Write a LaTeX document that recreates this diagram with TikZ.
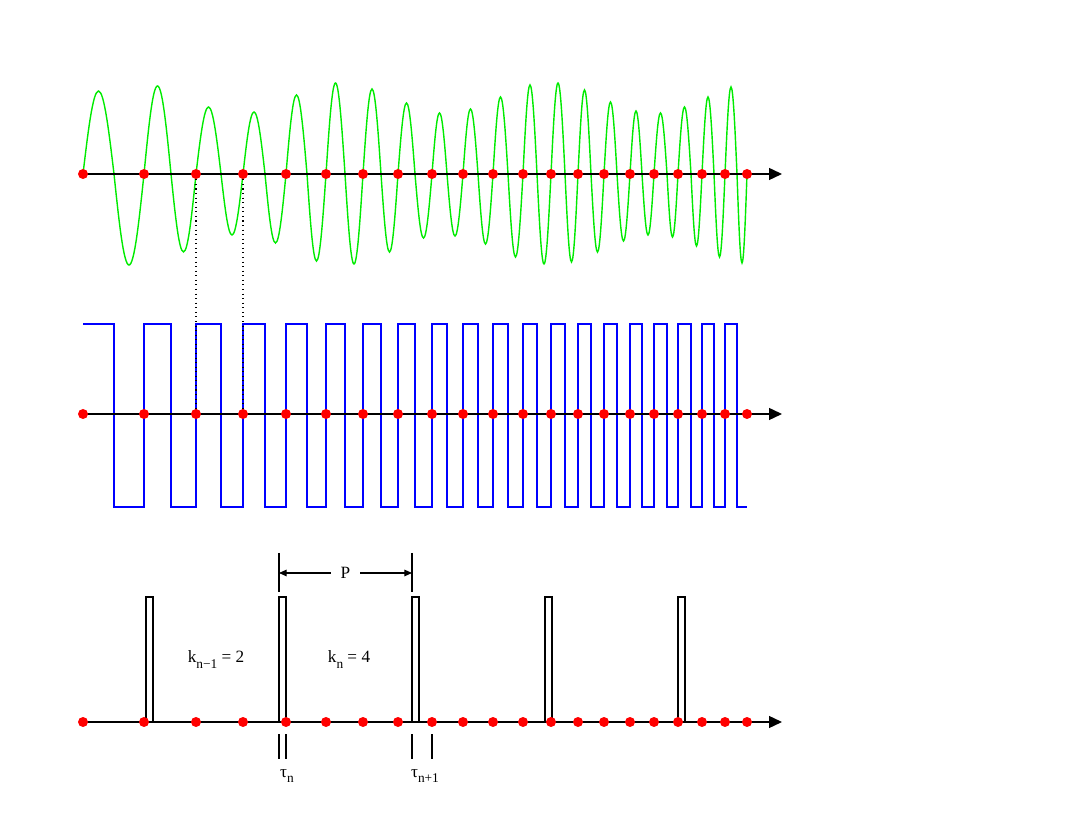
\documentclass[tikz,border=0pt]{standalone}
\usepackage{fontspec}
\setmainfont{Liberation Serif}
\usetikzlibrary{arrows.meta}
\newcommand{\lowsub}[1]{\raisebox{-0.7ex}{\fontsize{7.6}{9}\selectfont #1}}

\begin{document}
\begin{tikzpicture}[x=0.02cm, y=-0.02cm,
	redstyle/.style={circle, fill=red, inner sep=0pt, minimum size=0.2cm},
	axisstyle/.style={line width=0.9pt, -{Triangle[length=7.4pt, width=6.8pt]}},
	greenwave/.style={line width=0.8pt, green!92!black},
	bluewave/.style={line width=0.75pt, blue},
	pulsestyle/.style={line width=0.65pt},
	markstyle/.style={line width=0.6pt},
	dimstyle/.style={line width=0.6pt, {Triangle[length=4.4pt, width=3.8pt]}-{Triangle[length=4.4pt, width=3.8pt]}},
	labelstyle/.style={font=\fontsize{9.8}{11}\selectfont}]
	\useasboundingbox (0,0) rectangle (1075,830);

			\draw[greenwave] (83,174)
				\foreach \a/\f/\b/\p/\q in {83/114/144/91/265, 144/171/196/86/252, 196/221/243/107/235, 243/265/286/112/243,
					286/307/326/95/261, 326/345/363/83/264, 363/381/398/89/252, 398/415/432/103/238, 432/447/463/113/236,
					463/478/493/109/244, 493/508/523/97/257, 523/537/551/85/264, 551/565/578/83/262, 578/591/604/90/252,
					604/617/630/102/241, 630/642/654/111/235, 654/667/678/113/237, 678/691/702/107/246, 702/714/725/97/257,
					725/737/747/87/263}
				{ sin ({(\a+\f)/2},\p) cos (\f,174) sin ({(\f+\b)/2},\q) cos (\b,174) };

			\draw[bluewave] (83,324)
				\foreach \f/\n in {114/144, 171/196, 221/243, 265/286, 307/326, 345/363, 381/398, 415/432, 447/463, 478/493,
					508/523, 537/551, 565/578, 591/604, 617/630, 642/654, 667/678, 691/702, 714/725}
				{ -- (\f,324) -- (\f,507) -- (\n,507) -- (\n,324) }
				-- (737,324) -- (737,507) -- (747,507);

			\foreach \l/\r in {146/153, 279/286, 412/419, 545/552, 678/685}
				\draw[pulsestyle] (\l,722) rectangle (\r,597);

			\foreach \y/\n in {174/a, 414/b, 722/c}
				{\coordinate (\n start) at (83,\y);
				\coordinate (\n end) at (782,\y);
				\draw[axisstyle] (\n start) -- (\n end);}

			\foreach \x [count=\i] in {83,144,196,243,286,326,363,398,432,463,493,523,551,578,604,630,654,678,702,725,747}
				{\node[redstyle] (a\i) at (\x,174) {};
				\node[redstyle] (b\i) at (\x,414) {};
				\node[redstyle] (c\i) at (\x,722) {};}

			\draw[dotted, line width=0.6pt] (a3.south) -- (b3.north) (a4.south) -- (b4.north);

			\coordinate (pltop) at (279,553);
			\coordinate (plbot) at (279,592);
			\coordinate (prtop) at (412,553);
			\coordinate (prbot) at (412,592);
			\draw[markstyle] (pltop) -- (plbot) (prtop) -- (prbot);
			\draw[dimstyle] (pltop |- 0,573) -- node[labelstyle, fill=white, inner xsep=0.2cm] (period) {P} (prtop |- 0,573);

			\foreach \x [count=\i] in {279,286,412,432}
				{\coordinate (tt\i) at (\x,734);
				\coordinate (tb\i) at (\x,759);
				\draw[markstyle] (tt\i) -- (tb\i);}

			\node[labelstyle, anchor=base] (kprev) at (216,663) {k\lowsub{n−1} = 2};
			\node[labelstyle, anchor=base] (know) at (349,663) {k\lowsub{n} = 4};
			\node[labelstyle, anchor=base] (taun) at (287,777) {τ\lowsub{n}};
			\node[labelstyle, anchor=base] (taunext) at (425,777) {τ\lowsub{n+1}};
\end{tikzpicture}
\end{document}
